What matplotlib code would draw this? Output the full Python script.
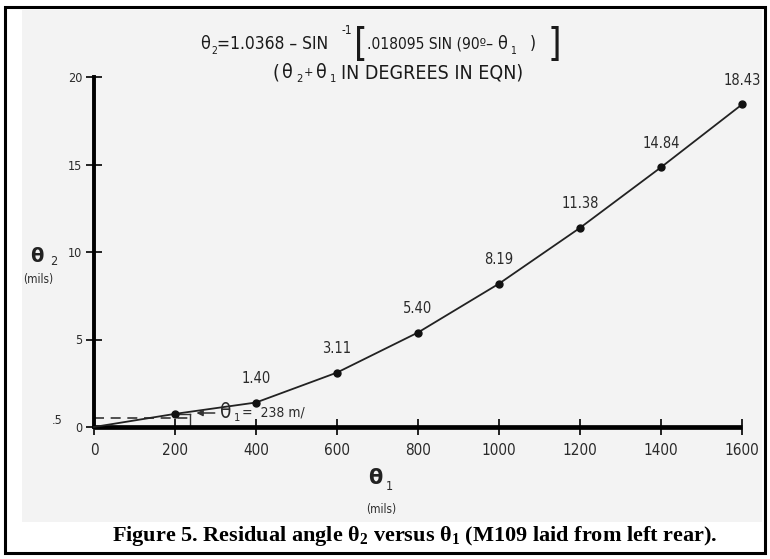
import matplotlib
matplotlib.use('Agg')
import matplotlib.pyplot as plt
from matplotlib.patches import Rectangle

plt.rcParams['mathtext.fontset'] = 'custom'
plt.rcParams['mathtext.bf'] = 'Liberation Serif:bold'
plt.rcParams['mathtext.rm'] = 'Liberation Serif:bold'
plt.rcParams['mathtext.default'] = 'bf'

# data
theta1 = [0, 200, 400, 600, 800, 1000, 1200, 1400, 1600]
theta2 = [0, 0.75, 1.40, 3.11, 5.40, 8.19, 11.38, 14.84, 18.43]
point_labels = ['', '', '1.40', '3.11', '5.40', '8.19', '11.38', '14.84', '18.43']
x_ticks = [0, 200, 400, 600, 800, 1000, 1200, 1400, 1600]
y_ticks = [0, 5, 10, 15, 20]
theta1_cross = 238
theta2_cross = 0.5

W, H = 770, 559
NARROW = dict(family='DejaVu Sans', stretch='condensed')


def px(x, y):
    return x / W, 1 - y / H


fig = plt.figure(figsize=(W / 100, H / 100), dpi=100)
fig.patch.set_facecolor('white')

# scanned page background
fig.patches.append(Rectangle(px(22, 522), (762 - 22) / W, (522 - 10) / H,
                             transform=fig.transFigure, facecolor='#f3f3f3',
                             edgecolor='none', zorder=-5))
# outer frame
fig.patches.append(Rectangle(px(5, 553), (765 - 5) / W, (553 - 7) / H,
                             transform=fig.transFigure, facecolor='none',
                             edgecolor='black', lw=2.2, zorder=5))

l, b = px(94, 427)
r, t = px(742, 77)
ax = fig.add_axes([l, b, r - l, t - b])
ax.patch.set_alpha(0)
ax.set_xlim(0, 1600)
ax.set_ylim(0, 20)
ax.spines['top'].set_visible(False)
ax.spines['right'].set_visible(False)
ax.spines['left'].set_linewidth(2.8)
ax.spines['bottom'].set_linewidth(3.4)
ax.spines['bottom'].set_capstyle('butt')

ax.set_xticks(x_ticks)
ax.set_yticks(y_ticks)
ax.tick_params(direction='inout', length=11, width=1.2, colors='black')
ax.tick_params(axis='x', pad=6, labelcolor='#2a2a2a', labelsize=11)
ax.tick_params(axis='y', pad=3, labelcolor='#2a2a2a', labelsize=9)
for lab in ax.get_xticklabels() + ax.get_yticklabels():
    lab.set_family('DejaVu Sans')
    lab.set_stretch('condensed')

# curve and points
ax.plot(theta1, theta2, color='#222222', lw=1.3, clip_on=False, zorder=3)
ax.plot(theta1[1:], theta2[1:], 'o', color='#111111', ms=5, clip_on=False, zorder=4)
for xv, yv, s in zip(theta1, theta2, point_labels):
    if s:
        ax.annotate(s, (xv, yv), xytext=(0, 12), textcoords='offset points',
                    ha='center', va='bottom', fontsize=10.5, color='#2a2a2a',
                    **NARROW)

# dashed reference line and the small box at theta1 = 238
ax.plot([0, theta1_cross], [theta2_cross, theta2_cross], ls=(0, (6, 4)),
        color='#333333', lw=1.2)
ax.plot([theta1_cross, theta1_cross], [0, theta2[1]], color='#333333', lw=1.0)
ax.plot([theta1[1], theta1_cross], [theta2[1], theta2[1]], color='#333333', lw=1.0)
ax.annotate('', xy=(theta1_cross + 8, 0.8), xytext=(305, 0.8),
            arrowprops=dict(arrowstyle='-|>', color='#333333', lw=1.1,
                            mutation_scale=9))
ax.text(310, 0.85, 'θ', fontsize=15, color='#2a2a2a', va='center', ha='left',
        **NARROW)
ax.text(345, 0.5, '1', fontsize=8, color='#2a2a2a', va='center', ha='left',
        **NARROW)
ax.text(365, 0.85, '=  238 m/', fontsize=10, color='#2a2a2a', va='center',
        ha='left', **NARROW)

# .5 label off to the left
fig.text(*px(52, 421), '.5', fontsize=9, color='#2a2a2a', ha='left',
         va='center', **NARROW)

# axis labels
fig.text(*px(30, 257), 'θ', fontsize=14, fontweight='bold', color='#222222',
         ha='left', va='center')
fig.text(*px(50, 261), '2', fontsize=9, color='#2a2a2a', ha='left',
         va='center', **NARROW)
fig.text(*px(23, 280), '(mils)', fontsize=8.5, color='#2a2a2a', ha='left',
         va='center', **NARROW)
fig.text(*px(368, 478), 'θ', fontsize=15, fontweight='bold', color='#222222',
         ha='left', va='center')
fig.text(*px(386, 486), '1', fontsize=9, color='#2a2a2a', ha='left',
         va='center', **NARROW)
fig.text(*px(381, 509), '(mils)', fontsize=8.5, color='#2a2a2a', ha='center',
         va='center', **NARROW)

# equation at the top
eq_kw = dict(color='#1a1a1a', va='center', ha='left', **NARROW)
fig.text(*px(200, 44), 'θ', fontsize=13, **eq_kw)
fig.text(*px(211, 51), '2', fontsize=7.5, **eq_kw)
fig.text(*px(217, 44), '=1.0368 – SIN', fontsize=12.5, **eq_kw)
fig.text(*px(342, 30), '-1', fontsize=8.5, **eq_kw)
fig.text(*px(354, 45), '[', fontsize=28, **eq_kw)
fig.text(*px(367, 44), '.018095 SIN (90º–', fontsize=11.2, **eq_kw)
fig.text(*px(497, 44), 'θ', fontsize=13, **eq_kw)
fig.text(*px(510, 51), '1', fontsize=7.5, **eq_kw)
fig.text(*px(530, 44), ')', fontsize=12.5, **eq_kw)
fig.text(*px(548, 45), ']', fontsize=28, **eq_kw)
fig.text(*px(272, 73), '(', fontsize=14, **eq_kw)
fig.text(*px(282, 73), 'θ', fontsize=14, **eq_kw)
fig.text(*px(296, 79), '2', fontsize=8, **eq_kw)
fig.text(*px(304, 72), '+', fontsize=9, **eq_kw)
fig.text(*px(316, 73), 'θ', fontsize=14, **eq_kw)
fig.text(*px(330, 79), '1', fontsize=8, **eq_kw)
fig.text(*px(341, 73), 'IN DEGREES IN EQN)', fontsize=14, **eq_kw)

# caption
fig.text(*px(415, 536), r'Figure 5. Residual angle θ$_2$ versus θ$_1$ (M109 laid from left rear).',
         fontsize=16, fontweight='bold', family='Liberation Serif',
         ha='center', va='center', color='black')

fig.savefig('out.png', dpi=100)
